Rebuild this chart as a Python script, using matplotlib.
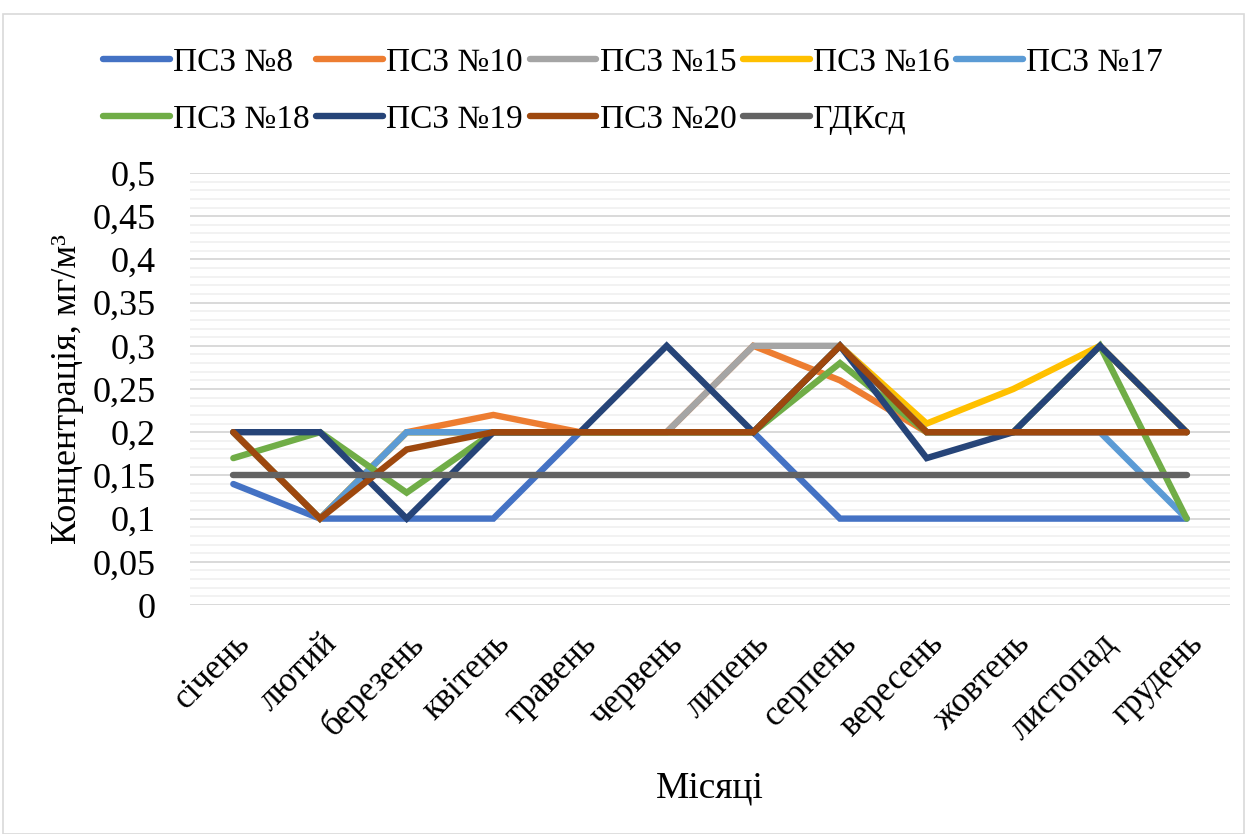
import matplotlib.pyplot as plt
from matplotlib.patches import Rectangle
from matplotlib.ticker import MultipleLocator, FuncFormatter

months = ['січень', 'лютий', 'березень', 'квітень', 'травень', 'червень',
          'липень', 'серпень', 'вересень', 'жовтень', 'листопад', 'грудень']

psz8 = [0.14, 0.10, 0.10, 0.10, 0.20, 0.20, 0.20, 0.10, 0.10, 0.10, 0.10, 0.10]
psz10 = [0.20, 0.10, 0.20, 0.22, 0.20, 0.20, 0.30, 0.26, 0.20, 0.20, 0.20, 0.20]
psz15 = [0.20, 0.10, 0.20, 0.20, 0.20, 0.20, 0.30, 0.30, 0.20, 0.20, 0.20, 0.20]
psz16 = [0.20, 0.10, 0.20, 0.20, 0.20, 0.20, 0.20, 0.30, 0.21, 0.25, 0.30, 0.20]
psz17 = [0.20, 0.10, 0.20, 0.20, 0.20, 0.20, 0.20, 0.30, 0.20, 0.20, 0.20, 0.10]
psz18 = [0.17, 0.20, 0.13, 0.20, 0.20, 0.20, 0.20, 0.28, 0.20, 0.20, 0.30, 0.10]
psz19 = [0.20, 0.20, 0.10, 0.20, 0.20, 0.30, 0.20, 0.30, 0.17, 0.20, 0.30, 0.20]
psz20 = [0.20, 0.10, 0.18, 0.20, 0.20, 0.20, 0.20, 0.30, 0.20, 0.20, 0.20, 0.20]
gdk = [0.15] * 12

series = [
    ('ПСЗ №8', psz8, '#4472c4'),
    ('ПСЗ №10', psz10, '#ed7d31'),
    ('ПСЗ №15', psz15, '#a5a5a5'),
    ('ПСЗ №16', psz16, '#ffc000'),
    ('ПСЗ №17', psz17, '#5b9bd5'),
    ('ПСЗ №18', psz18, '#70ad47'),
    ('ПСЗ №19', psz19, '#264478'),
    ('ПСЗ №20', psz20, '#9e480e'),
    ('ГДКсд', gdk, '#636363'),
]

fonts = ['Liberation Serif', 'DejaVu Serif']
plt.rcParams['font.family'] = fonts

fig = plt.figure(figsize=(12.47, 8.34), dpi=100)
ax = fig.add_axes([190 / 1247, 1 - 605 / 834, 1040 / 1247, 432 / 834])

x = list(range(len(months)))
handles = []
for name, vals, color in series:
    h, = ax.plot(x, vals, color=color, lw=4.6, label=name,
                 solid_capstyle='round', solid_joinstyle='miter')
    handles.append(h)

ax.set_xlim(-0.5, len(months) - 0.5)
ax.set_ylim(0, 0.5)
ax.yaxis.set_major_locator(MultipleLocator(0.05))
ax.yaxis.set_minor_locator(MultipleLocator(0.01))
ax.yaxis.set_major_formatter(FuncFormatter(lambda v, p: f'{v:.2f}'.rstrip('0').rstrip('.').replace('.', ',')))
ax.grid(axis='y', which='major', color='#d9d9d9', lw=1.4)
ax.grid(axis='y', which='minor', color='#f2f2f2', lw=1.4)
ax.set_axisbelow(True)
ax.set_xticks(x)
ax.set_xticklabels(months, rotation=45, ha='right', rotation_mode='anchor', fontsize=25)
ax.tick_params(axis='both', which='both', length=0, colors='black')
ax.tick_params(axis='y', labelsize=26, pad=25)
ax.tick_params(axis='x', pad=16)
for s in ax.spines.values():
    s.set_visible(False)

ax.set_xlabel('Місяці', fontsize=27, labelpad=18)
ax.set_ylabel('Концентрація, мг/м³', fontsize=26, labelpad=6)

order = [0, 5, 1, 6, 2, 7, 3, 8, 4]
fig.legend([handles[i] for i in order], [series[i][0] for i in order],
           ncol=5, loc='center', bbox_to_anchor=(633 / 1247, 1 - 91 / 834),
           frameon=False, prop={'family': fonts, 'size': 24},
           handlelength=2.0, handletextpad=0.1,
           columnspacing=0.2, labelspacing=0.8)

fig.patches.append(Rectangle((3 / 1247, 0), 1241 / 1247, 1 - 14 / 834,
                             transform=fig.transFigure, fill=False,
                             edgecolor='#d9d9d9', lw=1.2))

fig.savefig('out.png', dpi=100)
